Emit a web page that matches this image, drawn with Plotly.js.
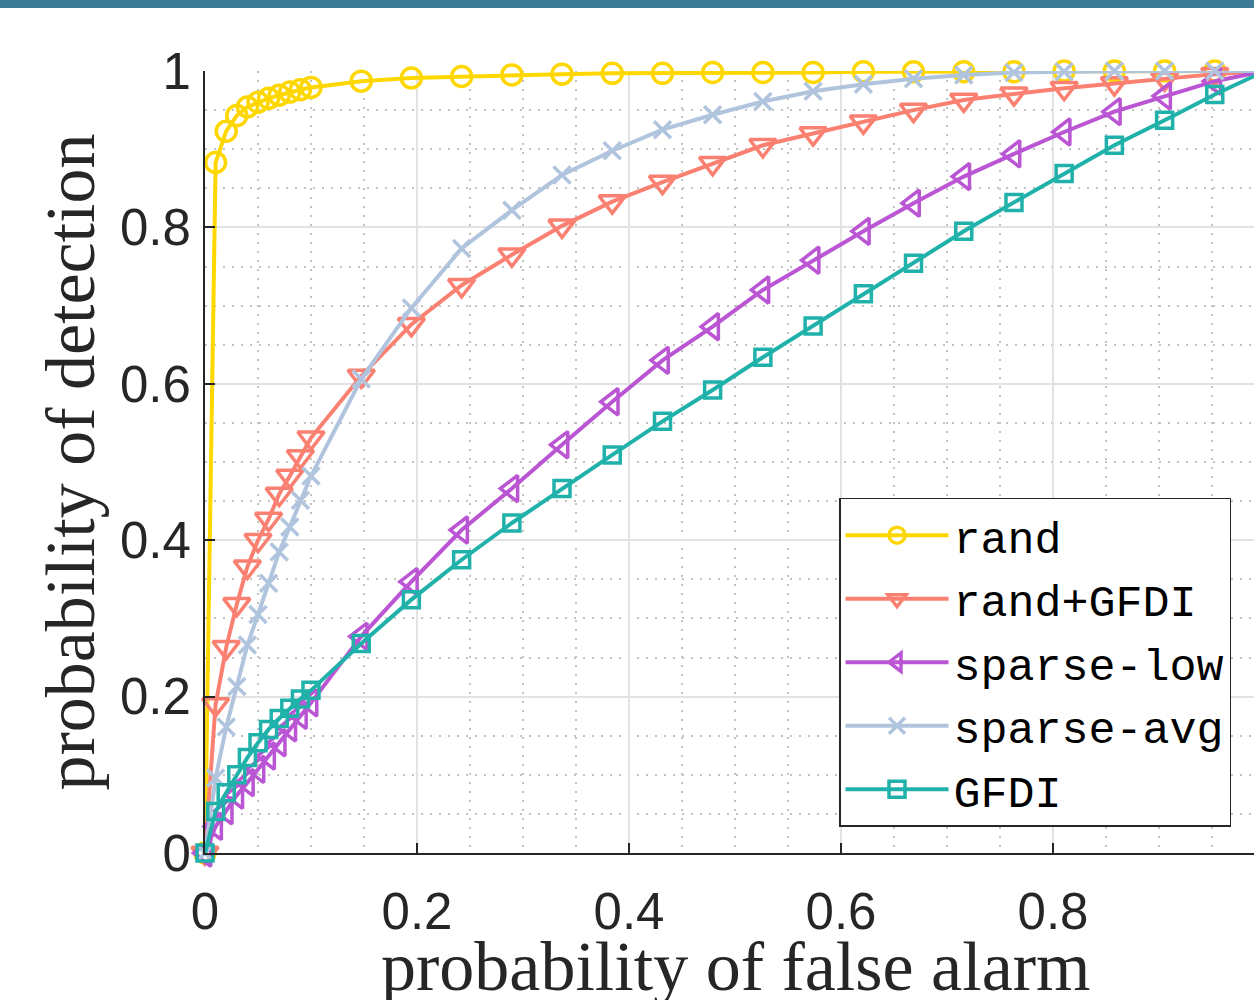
<!DOCTYPE html>
<html>
<head>
<meta charset="utf-8">
<script src="https://cdn.plot.ly/plotly-3.0.1.min.js"></script>
<style>
  html, body { margin: 0; padding: 0; background: #ffffff; overflow: hidden; }
  #chart { width: 1254px; height: 1000px; }
</style>
</head>
<body>
<div id="chart"></div>
<script>
// ---- data ----
const pfa = [0, 0.01, 0.02, 0.03, 0.04, 0.05, 0.06, 0.07, 0.08, 0.09, 0.1,
  0.1474, 0.1947, 0.2421, 0.2895, 0.3368, 0.3842, 0.4316, 0.4789, 0.5263,
  0.5737, 0.6211, 0.6684, 0.7158, 0.7632, 0.8105, 0.8579, 0.9053, 0.9526, 1.0];

const pdRand = [0, 0.883, 0.923, 0.943, 0.954, 0.960, 0.965, 0.969, 0.973, 0.976, 0.979,
  0.987, 0.991, 0.993, 0.995, 0.996, 0.997, 0.997, 0.998, 0.998,
  0.998, 0.999, 0.999, 0.999, 0.999, 1.0, 1.0, 1.0, 1.0, 1.0];

const pdRandGFDI = [0, 0.190, 0.263, 0.318, 0.366, 0.400, 0.427, 0.459, 0.482, 0.507, 0.531,
  0.610, 0.676, 0.726, 0.765, 0.802, 0.833, 0.858, 0.882, 0.905,
  0.920, 0.935, 0.950, 0.963, 0.971, 0.978, 0.984, 0.990, 0.996, 1.0];

const pdSparseLow = [0, 0.034, 0.054, 0.074, 0.090, 0.107, 0.124, 0.141, 0.160, 0.176, 0.192,
  0.277, 0.347, 0.413, 0.466, 0.522, 0.577, 0.630, 0.673, 0.720,
  0.758, 0.795, 0.831, 0.865, 0.894, 0.922, 0.948, 0.968, 0.987, 1.0];

const pdSparseAvg = [0, 0.096, 0.161, 0.213, 0.266, 0.305, 0.345, 0.385, 0.417, 0.451, 0.482,
  0.606, 0.697, 0.773, 0.822, 0.867, 0.898, 0.925, 0.944, 0.961,
  0.974, 0.983, 0.990, 0.995, 0.998, 0.999, 1.0, 1.0, 1.0, 1.0];

const pdGFDI = [0, 0.053, 0.077, 0.100, 0.122, 0.141, 0.158, 0.172, 0.185, 0.197, 0.208,
  0.268, 0.324, 0.375, 0.422, 0.466, 0.509, 0.552, 0.592, 0.634,
  0.674, 0.715, 0.754, 0.795, 0.832, 0.869, 0.905, 0.937, 0.970, 1.0];

const seriesNames = ['rand', 'rand+GFDI', 'sparse-low', 'sparse-avg', 'GFDI'];

const xTickVals = [0, 0.2, 0.4, 0.6, 0.8, 1];
const xTickText = ['0', '0.2', '0.4', '0.6', '0.8', '1'];
const yTickVals = [0, 0.2, 0.4, 0.6, 0.8, 1];
const yTickText = ['0', '0.2', '0.4', '0.6', '0.8', '1'];

const xTitle = 'probability of false alarm';
const yTitle = 'probability of detection';

// ---- styles ----
const colors = ['#FFD700', '#FA8072', '#BA55D3', '#B0C4DE', '#20B2AA'];
const symbols = ['circle-open', 'triangle-down-open', 'triangle-left-open', 'x-thin-open', 'square-open'];
const sizes = [20, 23, 23, 17, 16];
const ys = [pdRand, pdRandGFDI, pdSparseLow, pdSparseAvg, pdGFDI];

const traces = ys.map((y, i) => ({
  type: 'scatter',
  mode: 'lines+markers',
  x: pfa,
  y: y,
  name: seriesNames[i],
  legendgroup: 'g' + i,
  cliponaxis: false,
  line: { color: colors[i], width: 4 },
  marker: {
    symbol: symbols[i],
    size: sizes[i],
    color: colors[i],
    line: { color: colors[i], width: 3.5 }
  }
}));

const serif = 'Liberation Serif, Times New Roman, serif';
const sans = 'Liberation Sans, Arial, Helvetica, sans-serif';

const minorGrid = { dtick: 0.05, tick0: 0, showgrid: true, gridcolor: '#c2c2c2', gridwidth: 1.5, griddash: '2px,7px', ticks: '' };

const layout = {
  width: 1254,
  height: 1000,
  margin: { l: 205, r: 0, t: 71, b: 147, pad: 0 },
  paper_bgcolor: '#ffffff',
  plot_bgcolor: '#ffffff',
  font: { family: sans, color: '#262626' },
  showlegend: true,
  xaxis: {
    range: [0, 1049 / 1060],
    tickmode: 'array',
    tickvals: xTickVals,
    ticktext: xTickText,
    ticks: 'inside',
    ticklen: 10,
    tickwidth: 1.5,
    tickcolor: '#262626',
    showline: true,
    linecolor: '#262626',
    linewidth: 2,
    mirror: false,
    zeroline: false,
    showgrid: true,
    gridcolor: '#e2e2e2',
    gridwidth: 1.5,
    minor: minorGrid,
    tickfont: { family: sans, size: 51, color: '#262626' },
    ticklabelstandoff: 13
  },
  yaxis: {
    range: [0, 1],
    tickmode: 'array',
    tickvals: yTickVals,
    ticktext: yTickText,
    ticks: 'inside',
    ticklen: 10,
    tickwidth: 1.5,
    tickcolor: '#262626',
    showline: true,
    linecolor: '#262626',
    linewidth: 2,
    mirror: false,
    zeroline: false,
    showgrid: true,
    gridcolor: '#e2e2e2',
    gridwidth: 1.5,
    minor: minorGrid,
    tickfont: { family: sans, size: 51, color: '#262626' },
    ticklabelstandoff: 2,
    title: { text: yTitle, font: { family: serif, size: 70, color: '#262626' }, standoff: 2 }
  },
  annotations: [{
    text: xTitle,
    xref: 'paper', yref: 'paper',
    x: (735 - 205) / 1049, y: (853 - 966) / 782,
    xanchor: 'center', yanchor: 'middle',
    showarrow: false,
    font: { family: serif, size: 70, color: '#262626' }
  }],
  legend: {
    x: 0.6044,
    y: 0.454,
    xanchor: 'left',
    yanchor: 'top',
    bgcolor: '#ffffff',
    bordercolor: '#262626',
    borderwidth: 1.5,
    font: { family: 'Liberation Mono, Courier New, monospace', size: 45, color: '#000000' },
    tracegroupgap: 2,
    itemwidth: 103
  },
  shapes: [{
    type: 'rect',
    xref: 'paper', yref: 'paper',
    x0: -0.2, x1: 1.01,
    y0: (853 - 8) / 782, y1: 1.1,
    fillcolor: '#3d7a95',
    line: { width: 0 },
    layer: 'above'
  }]
};

Plotly.newPlot('chart', traces, layout, { displayModeBar: false, responsive: false });
</script>
</body>
</html>
